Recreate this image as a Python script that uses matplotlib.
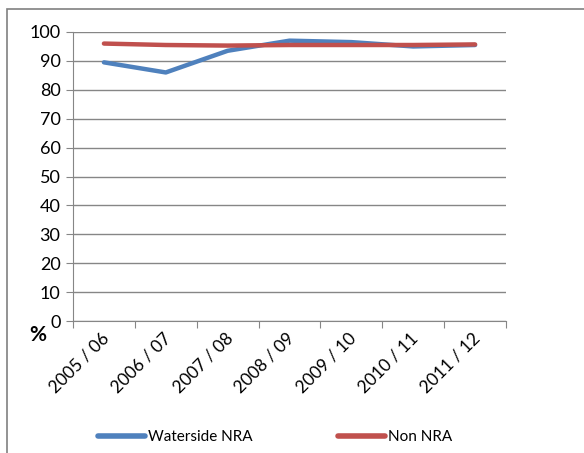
import matplotlib.pyplot as plt
from matplotlib.patches import Rectangle
from matplotlib.lines import Line2D

years = ["2005 / 06", "2006 / 07", "2007 / 08", "2008 / 09", "2009 / 10", "2010 / 11", "2011 / 12"]
waterside = [89.5, 86.0, 93.5, 97.0, 96.5, 95.0, 95.5]
non_nra = [96.0, 95.5, 95.3, 95.5, 95.5, 95.5, 95.7]
yticks = list(range(0, 101, 10))

plt.rcParams['font.family'] = ['Lato', 'DejaVu Sans']
W, H = 584, 453
fig = plt.figure(figsize=(W / 100, H / 100), dpi=100)
fig.patch.set_facecolor("white")

# outer chart border
fig.patches.append(Rectangle((7 / W, -0.05), 1.0, 1 - 9 / H + 0.05, transform=fig.transFigure,
                             fill=False, edgecolor="#808080", lw=1.2))

ax = fig.add_axes([73 / W, 1 - 321 / H, (506 - 73) / W, (321 - 32) / H])
x = list(range(len(years)))
ax.plot(x, waterside, color="#4F81BD", lw=3.2, solid_capstyle="round", label="Waterside NRA")
ax.plot(x, non_nra, color="#C0504D", lw=3.2, solid_capstyle="round", label="Non NRA")

ax.set_xlim(-0.5, len(years) - 0.5)
ax.set_ylim(0, 100)
ax.set_yticks(yticks)
ax.set_yticklabels([str(v) for v in yticks], fontsize=13)
ax.yaxis.grid(True, color="#868686", lw=1)
ax.set_axisbelow(True)
for s in ["top", "right"]:
    ax.spines[s].set_visible(False)
for s in ["left", "bottom"]:
    ax.spines[s].set_color("#868686")
ax.tick_params(axis="y", length=5, color="#868686", pad=4)
ax.set_xticks([i - 0.5 for i in range(len(years) + 1)])
ax.set_xticklabels([])
ax.tick_params(axis="x", length=5, color="#868686", direction="out")
for i, lab in enumerate(years):
    ax.text(i - 0.05, -3.0, lab, rotation=45, ha="right", va="top", rotation_mode="anchor",
            fontsize=12.5, transform=ax.transData)

fig.text(38 / W, 1 - 335 / H, "%", fontsize=15, fontweight="bold", ha="center", va="center")

handles = [Line2D([], [], color="#4F81BD", lw=4, solid_capstyle="round"),
           Line2D([], [], color="#C0504D", lw=4, solid_capstyle="round")]
fig.legend(handles, ["Waterside NRA", "Non NRA"], loc="center", bbox_to_anchor=(275 / W, 1 - 437 / H),
           ncol=2, frameon=False, fontsize=11, handlelength=3.1, handletextpad=0.15, columnspacing=5.6,
           borderpad=0, borderaxespad=0)

fig.savefig("out.png", dpi=100)
